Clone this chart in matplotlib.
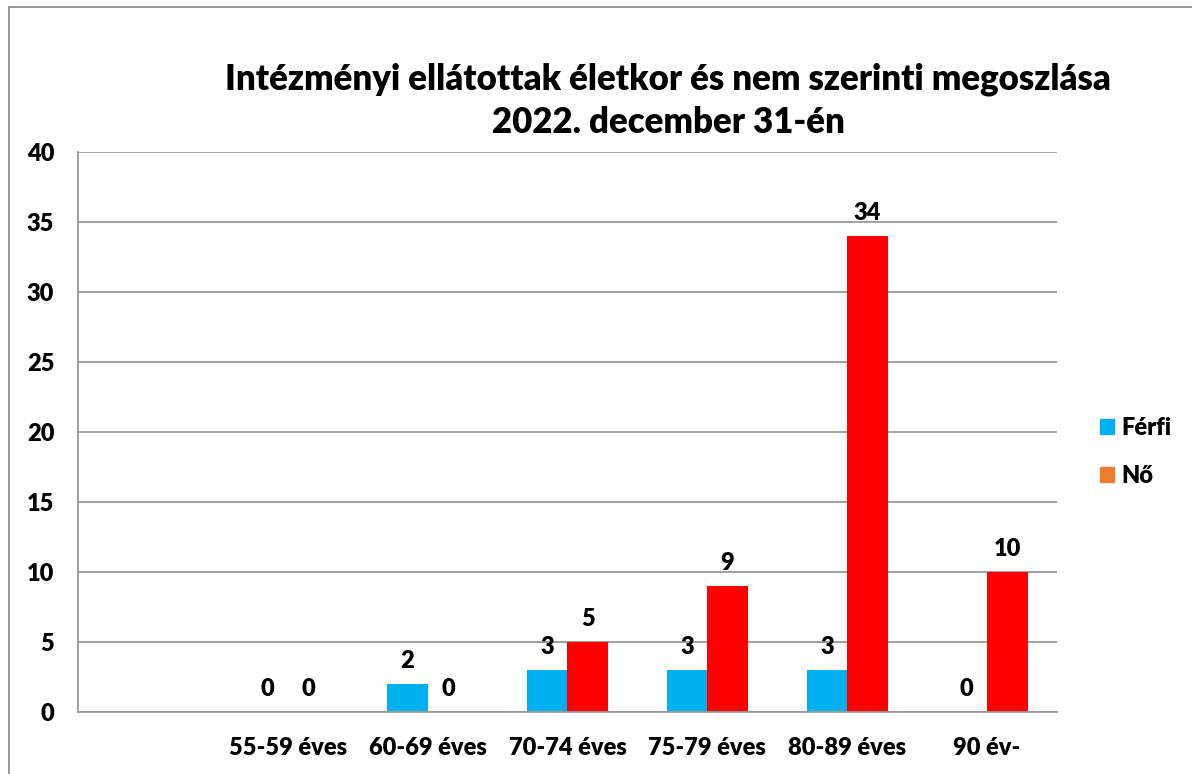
import numpy as np
import matplotlib.pyplot as plt
from matplotlib.patches import Rectangle

# chart data
categories = ["", "55-59 éves", "60-69 éves", "70-74 éves", "75-79 éves", "80-89 éves", "90 év-"]
ferfi = [np.nan, 0, 2, 3, 3, 3, 0]
no = [np.nan, 0, 0, 5, 9, 34, 10]
series_names = ["Férfi", "Nő"]

plt.rcParams['font.family'] = ['Lato', 'DejaVu Sans']
plt.rcParams['font.weight'] = 'heavy'

fig = plt.figure(figsize=(11.92, 7.74), dpi=100)
ax = fig.add_axes([0.0654, 0.0801, 0.8213, 0.7235])

# outer chart frame
fig.patches.append(Rectangle((9/1192, -0.5), 1.5, 1.5 - 7/774, transform=fig.transFigure,
                             fill=False, edgecolor='#888888', linewidth=1.2))

x = np.arange(len(categories))
w = 0.29
ax.bar(x - w/2, ferfi, w, color='#00B0F0', label=series_names[0])
ax.bar(x + w/2, no, w, color='#FF0000', label=series_names[1])

for xs, vals in [(x - w/2, ferfi), (x + w/2, no)]:
    for xi, v in zip(xs, vals):
        if np.isnan(v):
            continue
        ax.annotate(str(int(v)), (xi, v), xytext=(0, 9), textcoords='offset points',
                    ha='center', va='bottom', fontsize=17, fontweight='heavy')

ax.set_xlim(-0.5, len(categories) - 0.5)
ax.set_ylim(0, 40)
ax.set_yticks(range(0, 41, 5))
ax.set_xticks(x)
ax.set_xticklabels(categories)
ax.tick_params(axis='both', length=0, labelsize=17)
ax.tick_params(axis='x', pad=18)
ax.tick_params(axis='y', pad=17)
ax.yaxis.grid(True, color='#999999', linewidth=1.3)
ax.set_axisbelow(True)
for s in ['top', 'right']:
    ax.spines[s].set_visible(False)
for s in ['left', 'bottom']:
    ax.spines[s].set_color('#999999')
    ax.spines[s].set_linewidth(1.3)

# legend uses orange for Nő like the original
h1 = Rectangle((0, 0), 1, 1, color='#00B0F0')
h2 = Rectangle((0, 0), 1, 1, color='#ED7D31')
ax.legend([h1, h2], series_names, loc='center left', bbox_to_anchor=(1.022, 0.464),
          frameon=False, fontsize=17, handlelength=0.6, handleheight=0.6,
          handletextpad=0.3, labelspacing=1.1)

fig.text(0.5604, 0.870, "Intézményi ellátottak életkor és nem szerinti megoszlása\n2022. december 31-én",
         ha='center', va='center', fontsize=25, fontweight='heavy', linespacing=1.35)

fig.savefig("out.png", dpi=100)
